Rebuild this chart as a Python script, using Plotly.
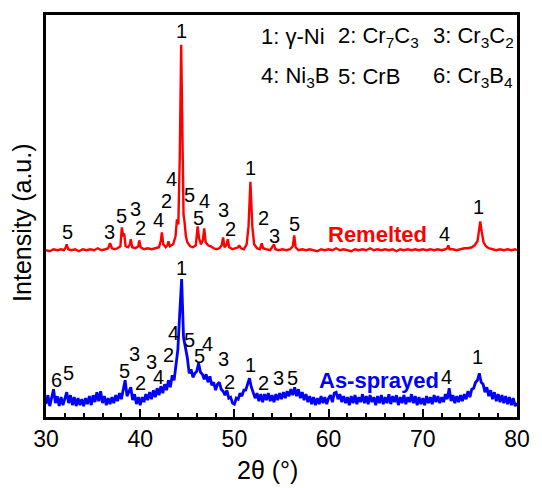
import numpy as np
import plotly.graph_objects as go

# ---------------- data ----------------
# As-sprayed pattern: intensity (a.u.) sampled every 0.2 deg from 30 to 80
blue_start = 30.0
blue_step = 0.2
blue_counts = [
    13, 22, 11, 21, 28, 14, 21, 11, 20, 12,   # 30.0-31.8
    18, 25, 14, 22, 12, 20, 11, 19, 12, 18,   # 32
    11, 19, 13, 21, 12, 22, 15, 25, 16, 26,   # 34
    14, 21, 12, 19, 13, 20, 14, 22, 16, 24,   # 36
    18, 27, 37, 21, 26, 30, 17, 23, 13, 20,   # 38
    12, 20, 15, 23, 17, 25, 18, 27, 20, 29,   # 40
    22, 31, 24, 33, 27, 37, 30, 42, 37, 54,   # 42
    68, 105, 139, 80, 70, 60, 44, 48, 40, 44, # 44
    46, 54, 45, 43, 38, 43, 35, 41, 32, 35,   # 46
    27, 33, 35, 28, 26, 22, 27, 19, 20, 14,   # 48
    13, 19, 18, 24, 21, 27, 27, 34, 39, 30,   # 50
    24, 19, 24, 16, 23, 15, 23, 17, 24, 16,   # 52
    22, 15, 23, 17, 24, 18, 25, 19, 26, 21,   # 54
    28, 22, 30, 21, 28, 19, 25, 17, 23, 15,   # 56
    21, 13, 20, 12, 19, 13, 21, 14, 20, 13,   # 58
    19, 22, 15, 24, 25, 18, 23, 15, 21, 14,   # 60
    20, 12, 21, 14, 22, 13, 20, 15, 23, 14,   # 62
    21, 13, 22, 15, 20, 12, 21, 14, 22, 13,   # 64
    20, 14, 23, 13, 21, 15, 22, 12, 20, 14,   # 66
    22, 13, 20, 15, 23, 14, 21, 12, 20, 13,   # 68
    19, 12, 21, 14, 20, 13, 22, 15, 21, 14,   # 70
    20, 15, 23, 18, 29, 16, 22, 14, 21, 15,   # 72
    22, 16, 23, 18, 26, 20, 28, 29, 35, 37,   # 74
    44, 35, 33, 25, 30, 21, 27, 18, 25, 16,   # 76
    23, 15, 22, 14, 21, 13, 20, 12, 19, 11,   # 78
    14,                                       # 80
]

# Remelted pattern: (2theta, intensity) pairs
red_two_theta = [
    30.0, 30.4, 30.8, 31.2, 31.6, 31.9, 32.1, 32.2, 32.35, 32.7, 33.1, 33.5, 33.9, 34.3, 34.7,
    35.1, 35.5, 35.9, 36.3, 36.6, 36.8, 37.0, 37.3, 37.6, 37.9, 38.05, 38.2, 38.3, 38.45, 38.7,
    38.9, 39.0, 39.15, 39.5, 39.8, 39.9, 40.05, 40.4, 40.8, 41.2, 41.6, 42.0, 42.2, 42.3, 42.45,
    42.7, 42.9, 43.0, 43.15, 43.5, 43.75, 43.9, 44.05, 44.2, 44.35, 44.5, 44.6, 44.7, 44.85, 45.0,
    45.3, 45.6, 45.9, 46.05, 46.1, 46.25, 46.45, 46.65, 46.8, 46.95, 47.2, 47.5, 47.8, 48.1, 48.4,
    48.65, 48.8, 48.95, 49.15, 49.3, 49.45, 49.8, 50.1, 50.4, 50.5, 50.7, 51.0, 51.3, 51.5, 51.7,
    51.9, 52.1, 52.4, 52.7, 52.9, 53.05, 53.4, 53.8, 54.2, 54.35, 54.7, 55.1, 55.5, 55.9, 56.2,
    56.35, 56.5, 56.8, 57.2, 57.6, 58.0, 58.4, 58.8, 59.2, 59.6, 60.0, 60.4, 60.8, 61.2, 61.6,
    62.0, 62.4, 62.8, 63.2, 63.6, 64.0, 64.4, 64.8, 65.2, 65.6, 66.0, 66.4, 66.8, 67.2, 67.6,
    68.0, 68.4, 68.8, 69.2, 69.6, 70.0, 70.4, 70.8, 71.2, 71.6, 72.0, 72.4, 72.6, 72.7, 72.85,
    73.2, 73.6, 74.0, 74.4, 74.8, 75.2, 75.5, 75.8, 76.0, 76.1, 76.25, 76.45, 76.7, 77.0, 77.4,
    77.8, 78.2, 78.6, 79.0, 79.4, 79.8, 80.0,
]
red_counts = [
    16, 15, 17, 16, 17, 16, 19, 22, 17, 16, 17, 15, 17, 16, 17,
    16, 18, 16, 17, 18, 23, 18, 17, 18, 20, 39, 30, 33, 20, 19,
    22, 27, 19, 18, 20, 26, 19, 17, 18, 17, 18, 19, 26, 34, 22,
    19, 21, 25, 20, 22, 30, 47, 42, 110, 223, 100, 52, 45, 30, 24,
    20, 19, 21, 35, 40, 28, 22, 26, 38, 24, 21, 20, 18, 17, 18,
    21, 29, 19, 21, 27, 19, 17, 18, 19, 21, 18, 17, 22, 40, 85,
    40, 22, 18, 17, 23, 18, 17, 16, 22, 17, 16, 17, 16, 17, 20,
    31, 19, 16, 17, 16, 17, 16, 15, 17, 16, 17, 16, 18, 16, 17,
    16, 15, 17, 16, 17, 16, 18, 16, 17, 16, 17, 16, 17, 15, 17,
    16, 17, 16, 17, 16, 17, 16, 17, 16, 17, 16, 17, 18, 21, 17,
    17, 16, 17, 18, 18, 19, 21, 25, 38, 45, 35, 24, 20, 18, 17,
    16, 17, 16, 17, 16, 17, 16,
]
red_offset = 152

# Peak labels (phase number, 2theta, intensity level of label)
red_label_text = ["5", "3", "5", "3", "2", "4", "2", "4", "1", "5", "4", "5", "3", "2",
                  "1", "2", "3", "5", "4", "1"]
red_label_x = [32.29, 36.76, 38.0, 39.46, 40.08, 41.95, 42.79, 43.31, 44.35, 45.28,
               46.84, 46.22, 48.81, 49.54, 51.73, 53.08, 54.22, 56.40, 72.31, 75.95]
red_label_y = [186, 186, 203, 210, 190, 198, 218, 240, 389, 224,
               218, 200, 209, 189, 251, 200, 182, 194, 184, 212]

blue_label_text = ["6", "5", "5", "3", "2", "3", "4", "2", "4", "1", "5", "5", "4", "3",
                   "2", "1", "2", "3", "5", "4", "1"]
blue_label_x = [31.14, 32.39, 38.32, 39.36, 40.08, 41.23, 41.95, 42.99, 43.51, 44.35, 45.28,
                46.32, 47.15, 48.81, 49.44, 51.73, 53.08, 54.64, 56.20, 72.52, 75.84]
blue_label_y = [37, 44, 46, 63, 34, 55, 40, 62, 85, 150, 78,
                61, 74, 58, 35, 52, 34, 39, 39, 40, 60]

phase_keys = ["1: γ-Ni", "2: Cr<sub>7</sub>C<sub>3</sub>", "3: Cr<sub>3</sub>C<sub>2</sub>",
              "4: Ni<sub>3</sub>B", "5: CrB", "6: Cr<sub>3</sub>B<sub>4</sub>"]
x_ticks = [30, 40, 50, 60, 70, 80]

# ---------------- figure ----------------
FONT = "Liberation Sans, Arial, sans-serif"
blue_x = blue_start + blue_step * np.arange(len(blue_counts))
red_y = np.array(red_counts) + red_offset

fig = go.Figure()
fig.add_trace(go.Scatter(x=blue_x, y=blue_counts, mode="lines",
                         line=dict(color="#0000ff", width=2.8), showlegend=False))
fig.add_trace(go.Scatter(x=red_two_theta, y=red_y, mode="lines",
                         line=dict(color="#ff0000", width=2.4), showlegend=False))

ann = []
for t, x, y in zip(red_label_text, red_label_x, red_label_y):
    ann.append(dict(x=x, y=y, text=t, showarrow=False, xref="x", yref="y",
                    xanchor="center", yanchor="middle",
                    font=dict(size=20, color="black", family=FONT)))
for t, x, y in zip(blue_label_text, blue_label_x, blue_label_y):
    ann.append(dict(x=x, y=y, text=t, showarrow=False, xref="x", yref="y",
                    xanchor="center", yanchor="middle",
                    font=dict(size=20, color="black", family=FONT)))

# phase key (two rows, three columns)
key_cols = [52.6, 60.8, 70.9]
key_rows = [383, 343]
for i, k in enumerate(phase_keys):
    ann.append(dict(x=key_cols[i % 3], y=key_rows[i // 3], text=k, showarrow=False,
                    xref="x", yref="y", xanchor="left", yanchor="middle",
                    font=dict(size=22, color="black", family=FONT)))

ann.append(dict(x=65.2, y=184, text="<b>Remelted</b>", showarrow=False, xref="x", yref="y",
                xanchor="center", yanchor="middle",
                font=dict(size=22, color="#ff0000", family=FONT)))
ann.append(dict(x=65.4, y=37, text="<b>As-sprayed</b>", showarrow=False, xref="x", yref="y",
                xanchor="center", yanchor="middle",
                font=dict(size=22, color="#0000ff", family=FONT)))

# axis titles
ann.append(dict(x=0.47, y=-0.131, xref="paper", yref="paper", text="2θ (°)", showarrow=False,
                xanchor="center", yanchor="middle",
                font=dict(size=25, color="black", family=FONT)))
ann.append(dict(x=-0.05, y=0.484, xref="paper", yref="paper", text="Intensity (a.u.)",
                showarrow=False, textangle=-90, xanchor="center", yanchor="middle",
                font=dict(size=25, color="black", family=FONT)))

fig.update_layout(
    width=542, height=488,
    margin=dict(l=46, r=15, t=12, b=71),
    paper_bgcolor="white", plot_bgcolor="white",
    annotations=ann,
    showlegend=False,
)
fig.update_xaxes(range=[30, 80], tickvals=x_ticks, ticks="inside", ticklen=8, tickwidth=2,
                 tickcolor="black", showline=True, linecolor="black", linewidth=2.5,
                 mirror=True, showgrid=False, zeroline=False,
                 tickfont=dict(size=23, color="black", family=FONT),
                 minor=dict(dtick=2, ticks="inside", ticklen=4, tickwidth=2, tickcolor="black",
                            showgrid=False))
fig.update_yaxes(range=[0, 405], showticklabels=False, ticks="", showline=True,
                 linecolor="black", linewidth=2.5, mirror=True, showgrid=False,
                 zeroline=False)

fig.write_html("out.html")
